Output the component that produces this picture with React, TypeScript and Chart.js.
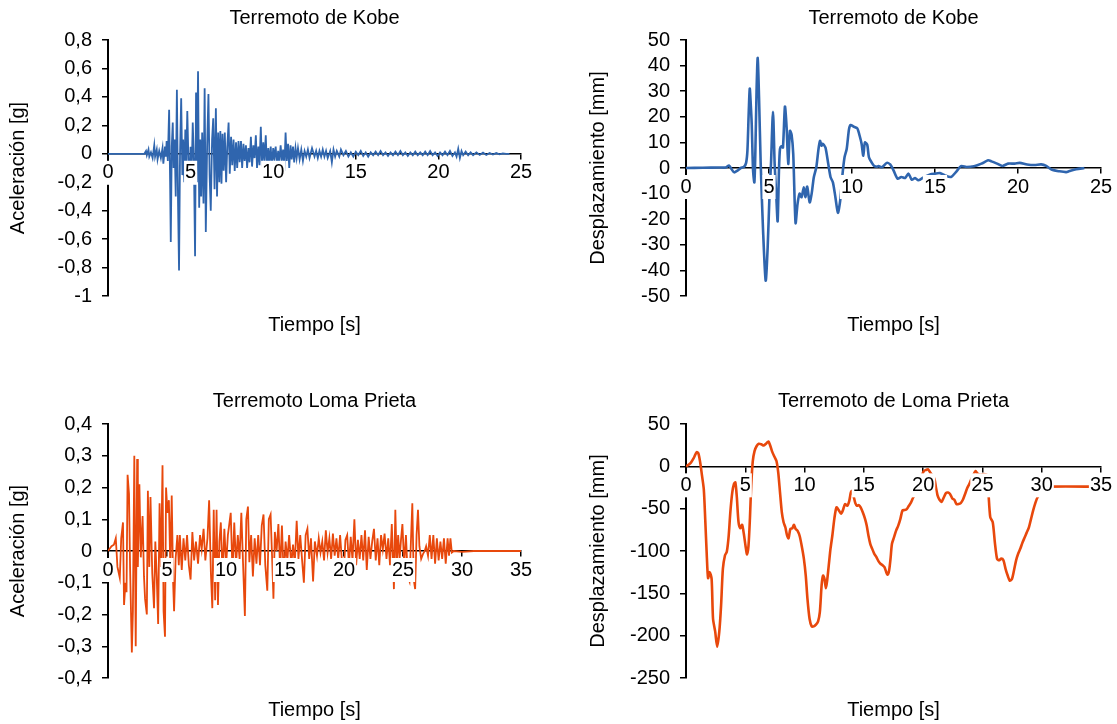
import React, { useEffect, useRef } from "react";
import { Chart, registerables } from "chart.js";

Chart.register(...registerables);

const FONT_FAMILY = '"Liberation Sans", Arial, Helvetica, sans-serif';
const BLUE = "#2f65ae";
const ORANGE = "#e8480c";
const X_TITLE = "Tiempo [s]";

// Kobe — ground acceleration [g] vs time [s]
const kobeAcceleration: [number, number][] = [
  [0, 0], [2.2, 0], [2.3, 0.02], [2.35, -0.01], [2.45, 0.03], [2.5, -0.02], [2.6, 0.01], [2.7, -0.03],
  [2.8, 0.06], [2.85, -0.02], [2.95, 0.03], [3.0, -0.04], [3.1, 0.02], [3.2, -0.03], [3.3, 0.04],
  [3.35, -0.07], [3.45, 0.05], [3.5, -0.02], [3.55, 0.09], [3.62, -0.05], [3.7, 0.31], [3.76, -0.2],
  [3.8, -0.62], [3.86, 0.05], [3.92, 0.22], [3.97, -0.1], [4.03, 0.1], [4.1, -0.3], [4.17, 0.45],
  [4.24, -0.35], [4.3, -0.82], [4.36, 0.0], [4.43, 0.39], [4.5, -0.15], [4.55, 0.1], [4.62, -0.2],
  [4.68, 0.17], [4.73, -0.1], [4.8, 0.3], [4.87, -0.05], [4.93, -0.2], [5.0, 0.05], [5.07, -0.1],
  [5.13, 0.22], [5.2, -0.05], [5.27, -0.72], [5.33, 0.43], [5.38, -0.2], [5.45, 0.58], [5.52, -0.38],
  [5.58, 0.1], [5.64, -0.3], [5.7, 0.15], [5.78, -0.35], [5.85, 0.46], [5.92, -0.55], [6.0, 0.05],
  [6.08, 0.42], [6.15, -0.15], [6.22, -0.4], [6.3, 0.1], [6.37, 0.25], [6.45, -0.25], [6.53, 0.32],
  [6.6, -0.3], [6.67, 0.15], [6.74, -0.2], [6.8, 0.16], [6.87, -0.21], [6.93, 0.14], [7.0, -0.12],
  [7.07, 0.15], [7.15, -0.2], [7.22, 0.05], [7.3, 0.22], [7.37, -0.14], [7.45, 0.12], [7.52, -0.08],
  [7.6, 0.1], [7.67, -0.12], [7.75, 0.08], [7.82, -0.1], [7.9, 0.09], [7.97, -0.06], [8.05, 0.09],
  [8.12, -0.1], [8.2, 0.07], [8.27, -0.05], [8.35, 0.06], [8.42, -0.1], [8.5, 0.04], [8.57, -0.06],
  [8.65, 0.12], [8.72, -0.09], [8.8, 0.06], [8.87, -0.03], [8.95, 0.13], [9.02, -0.1], [9.1, 0.05],
  [9.17, -0.08], [9.25, 0.19], [9.32, -0.09], [9.4, 0.08], [9.47, -0.05], [9.55, 0.13], [9.62, -0.1],
  [9.7, 0.04], [9.77, -0.06], [9.85, 0.05], [9.92, -0.09], [10.0, 0.04], [10.07, -0.03], [10.15, 0.05],
  [10.22, -0.08], [10.3, 0.02], [10.37, -0.06], [10.45, 0.06], [10.52, -0.04], [10.6, 0.03],
  [10.67, -0.12], [10.75, 0.15], [10.82, -0.05], [10.9, 0.07], [10.97, -0.1], [11.05, 0.06],
  [11.12, -0.04], [11.2, 0.05], [11.27, -0.06], [11.35, 0.04], [11.42, -0.03], [11.5, 0.04],
  [11.6, -0.04], [11.7, 0.03], [11.8, -0.05], [11.9, 0.02], [12.0, -0.02], [12.1, 0.03], [12.2, -0.03],
  [12.35, 0.04], [12.5, -0.02], [12.6, 0.02], [12.7, -0.03], [12.8, 0.02], [12.9, -0.02], [13.0, 0.03],
  [13.1, -0.02], [13.2, 0.02], [13.3, -0.03], [13.45, 0.02], [13.55, -0.06], [13.65, 0.03],
  [13.75, -0.02], [13.85, 0.02], [14.0, -0.02], [14.1, 0.03], [14.25, -0.01], [14.4, 0.02],
  [14.55, -0.02], [14.7, 0.01], [14.85, -0.02], [15.0, 0.015], [15.15, -0.01], [15.3, 0.02],
  [15.45, -0.015], [15.6, 0.01], [15.75, -0.02], [15.9, 0.01], [16.05, -0.01], [16.2, 0.015],
  [16.35, -0.01], [16.5, 0.02], [16.65, -0.01], [16.8, 0.01], [16.95, -0.015], [17.1, 0.01],
  [17.25, -0.01], [17.4, 0.015], [17.55, -0.01], [17.7, 0.02], [17.85, -0.01], [18.0, 0.01],
  [18.15, -0.015], [18.3, 0.01], [18.45, -0.01], [18.6, 0.015], [18.75, -0.01], [18.9, 0.01],
  [19.05, -0.01], [19.2, 0.015], [19.35, -0.01], [19.5, 0.02], [19.65, -0.01], [19.8, 0.01],
  [19.95, -0.015], [20.1, 0.01], [20.25, -0.01], [20.4, 0.015], [20.55, -0.01], [20.7, 0.02],
  [20.85, -0.015], [21.0, 0.01], [21.1, -0.02], [21.2, 0.035], [21.3, -0.03], [21.4, 0.02],
  [21.5, -0.01], [21.65, 0.015], [21.8, -0.01], [21.95, 0.01], [22.1, -0.01], [22.3, 0.01],
  [22.5, -0.008], [22.7, 0.008], [22.9, -0.008], [23.1, 0.006], [23.3, -0.005], [23.5, 0.005],
  [23.7, -0.004], [23.9, 0.003], [24.1, 0], [24.3, 0],
];

// Kobe — displacement [mm] vs time [s]
const kobeDisplacement: [number, number][] = [
  [0, 0], [1.0, 0.1], [2.0, 0.2], [2.39, 0.2], [2.59, 1.0], [2.75, -0.5], [2.9, -1.7], [3.1, -1.0],
  [3.3, 0], [3.5, 0.5], [3.62, 2], [3.7, 6.8], [3.77, 20], [3.84, 31], [3.9, 25], [3.96, 17],
  [4.04, -1], [4.12, -5.6], [4.18, 6.8], [4.25, 30], [4.32, 43], [4.4, 27.5], [4.5, 1.6], [4.64, -24],
  [4.8, -44], [4.92, -31], [5.04, -8.8], [5.12, 1.6], [5.24, 22], [5.34, 1.6], [5.44, -11],
  [5.52, -20.8], [5.6, -1], [5.66, 7.4], [5.75, 8.5], [5.84, 8], [5.96, 24], [6.06, 16], [6.16, 1.6],
  [6.26, 14.5], [6.36, 13], [6.46, 5.5], [6.6, -21.5], [6.72, -14], [6.84, -10], [6.96, -11.4],
  [7.1, -7.5], [7.2, -11.4], [7.3, -7.3], [7.45, -13.4], [7.57, -10], [7.7, -3.6], [7.85, 0.3],
  [7.97, 6.8], [8.07, 10.6], [8.17, 8.7], [8.24, 9.5], [8.31, 9], [8.41, 7.8], [8.57, 1.6],
  [8.71, -3.6], [8.85, -5.6], [9.0, -11.4], [9.15, -17.5], [9.29, -12.7], [9.41, -3.6], [9.55, 4.2],
  [9.68, 7.4], [9.82, 15.2], [9.92, 16.8], [10.12, 16.1], [10.32, 15.5], [10.46, 12.6], [10.58, 9.4],
  [10.68, 4.8], [10.78, 10], [10.92, 9], [11.02, 4.2], [11.18, 2.2], [11.32, 0.9], [11.52, 0.5],
  [11.6, 0.8], [11.8, 0.3], [12.1, 2], [12.3, 1.4], [12.5, -0.9], [12.75, -4.2], [12.97, -3.5],
  [13.2, -3.9], [13.4, -2.2], [13.6, -4.6], [13.8, -3.9], [14.0, -4.8], [14.36, -3.5], [14.7, -2.5],
  [15.0, -2.2], [15.3, -2], [15.6, -2.9], [15.96, -3.5], [16.3, -1.3], [16.56, 0.7], [16.9, 0.4],
  [17.35, 0.7], [17.8, 1.7], [18.2, 3], [18.4, 2.6], [18.74, 1.7], [19.06, 0.8], [19.4, 1.7],
  [19.8, 1.7], [20.1, 2], [20.55, 1.4], [21.0, 1.2], [21.4, 1.4], [21.7, 0.8], [22.05, -0.7],
  [22.5, -1.3], [22.9, -1.6], [23.1, -1.2], [23.5, -0.5], [24.0, 0],
];

// Loma Prieta — ground acceleration [g] vs time [s]
const lomaAcceleration: [number, number][] = [
  [0, 0], [0.3, 0.015], [0.5, 0.02], [0.66, 0.04], [0.8, -0.05], [1.0, -0.085], [1.12, 0.04],
  [1.27, 0.09], [1.36, -0.17], [1.48, -0.1], [1.57, -0.13], [1.66, 0.24], [1.78, 0.18], [1.87, -0.05],
  [2.02, -0.32], [2.11, -0.19], [2.23, 0.3], [2.35, -0.3], [2.47, 0.29], [2.53, -0.05], [2.66, 0.21],
  [2.78, -0.02], [2.93, 0.11], [3.05, -0.08], [3.14, -0.15], [3.29, -0.2], [3.38, 0.19], [3.5, -0.05],
  [3.6, 0.17], [3.75, -0.07], [3.9, -0.18], [4.01, 0.03], [4.13, -0.08], [4.25, -0.23], [4.37, 0.15],
  [4.49, -0.05], [4.62, 0.27], [4.71, -0.19], [4.83, -0.27], [4.92, 0.2], [5.04, 0.12], [5.16, 0.16],
  [5.28, -0.05], [5.4, 0.175], [5.52, -0.1], [5.6, -0.19], [5.73, -0.025], [5.88, 0.05], [6.0, -0.045],
  [6.09, 0.05], [6.25, -0.06], [6.4, 0.04], [6.55, -0.03], [6.7, 0.05], [6.85, -0.045], [7.0, -0.09],
  [7.15, 0.06], [7.3, -0.03], [7.45, 0.03], [7.63, -0.04], [7.8, 0.05], [7.94, 0.006], [8.1, 0.07],
  [8.25, -0.03], [8.43, 0.04], [8.57, 0.16], [8.72, -0.07], [8.84, -0.18], [8.96, 0.13], [9.08, -0.155],
  [9.2, 0.13], [9.32, -0.17], [9.44, 0.03], [9.56, 0.09], [9.71, -0.08], [9.86, 0.07], [10.01, -0.045],
  [10.16, 0.05], [10.4, 0.12], [10.55, -0.07], [10.7, 0.09], [10.85, -0.045], [11.0, 0.05],
  [11.15, -0.025], [11.3, 0.12], [11.45, -0.045], [11.6, -0.205], [11.72, 0.1], [11.86, 0.14],
  [11.98, -0.035], [12.13, 0.05], [12.28, -0.08], [12.43, 0.04], [12.58, -0.04], [12.73, 0.05],
  [12.88, -0.045], [13.03, 0.08], [13.18, 0.115], [13.33, -0.045], [13.5, -0.125], [13.63, 0.1],
  [13.78, 0.115], [13.93, -0.045], [14.02, -0.15], [14.14, 0.06], [14.29, 0.0], [14.44, 0.085],
  [14.59, -0.06], [14.74, 0.08], [14.9, -0.09], [15.05, 0.03], [15.2, -0.03], [15.35, 0.05],
  [15.53, -0.045], [15.68, 0.02], [15.83, -0.04], [15.99, 0.095], [16.14, -0.025], [16.29, 0.05],
  [16.44, -0.025], [16.6, -0.1], [16.75, 0.05], [16.9, 0.07], [17.05, -0.025], [17.2, 0.04],
  [17.38, -0.096], [17.53, 0.03], [17.71, -0.015], [17.86, 0.04], [18.01, -0.005], [18.16, 0.03],
  [18.31, -0.03], [18.46, 0.065], [18.61, -0.005], [18.76, 0.04], [18.91, -0.025], [19.06, 0.055],
  [19.21, -0.015], [19.36, 0.04], [19.51, -0.025], [19.67, 0.05], [19.82, -0.03], [19.97, -0.08],
  [20.12, 0.035], [20.27, 0.05], [20.42, -0.045], [20.57, 0.045], [20.72, -0.03], [20.88, 0.1],
  [21.03, -0.045], [21.18, 0.035], [21.33, -0.025], [21.48, 0.05], [21.63, -0.03], [21.78, 0.065],
  [21.93, -0.06], [22.09, 0.045], [22.24, -0.025], [22.39, 0.03], [22.54, 0.07], [22.69, -0.03],
  [22.84, 0.04], [22.99, -0.045], [23.14, 0.05], [23.29, 0.005], [23.44, 0.055], [23.6, -0.025],
  [23.75, 0.04], [23.9, -0.045], [24.05, 0.085], [24.17, -0.045], [24.23, -0.12], [24.35, 0.13],
  [24.47, -0.045], [24.59, 0.05], [24.71, -0.025], [24.83, 0.035], [24.95, 0.085], [25.1, -0.045],
  [25.25, 0.05], [25.4, -0.08], [25.55, -0.096], [25.7, 0.06], [25.79, 0.15], [25.91, -0.09],
  [26.03, -0.12], [26.15, 0.05], [26.27, 0.13], [26.39, 0.015], [26.54, -0.025], [26.69, -0.01],
  [26.84, 0.0], [26.96, 0.015], [27.12, -0.015], [27.27, 0.05], [27.42, -0.025], [27.57, 0.05],
  [27.72, -0.04], [27.87, 0.04], [28.02, -0.03], [28.17, 0.03], [28.32, -0.025], [28.47, 0.04],
  [28.62, -0.04], [28.78, 0.04], [28.9, -0.015], [29.02, 0.04], [29.14, -0.005], [29.3, 0.0],
  [30.0, -0.003], [31.0, 0], [35, 0],
];

// Loma Prieta — displacement [mm] vs time [s]
const lomaDisplacement: [number, number][] = [
  [0, 0], [0.36, 3.5], [0.66, 10], [0.9, 16.8], [1.05, 15], [1.2, 4.3], [1.35, -11], [1.5, -27],
  [1.62, -62], [1.74, -101], [1.86, -132], [2.0, -125], [2.16, -133], [2.28, -180], [2.46, -195],
  [2.63, -213], [2.81, -195], [2.96, -164], [3.11, -121], [3.29, -105], [3.44, -101], [3.6, -82],
  [3.74, -54], [3.9, -31], [4.04, -21], [4.16, -19], [4.28, -35], [4.43, -66], [4.58, -73],
  [4.73, -69], [4.88, -80], [5.03, -95], [5.15, -104], [5.27, -94], [5.39, -62], [5.5, -23],
  [5.63, 6], [5.78, 18], [5.96, 24], [6.14, 26.6], [6.35, 26], [6.56, 24.6], [6.77, 27], [6.95, 29.3],
  [7.1, 24.6], [7.25, 18], [7.46, 11.3], [7.63, 6.3], [7.78, -7.4], [7.93, -31], [8.08, -54],
  [8.23, -66], [8.38, -72], [8.53, -82], [8.65, -85], [8.8, -74], [8.98, -73], [9.1, -69],
  [9.25, -74], [9.4, -76], [9.58, -82], [9.76, -94], [9.94, -109], [10.1, -129], [10.24, -156],
  [10.42, -180], [10.6, -189], [10.78, -189], [10.96, -187], [11.14, -183], [11.29, -172],
  [11.44, -140], [11.56, -129], [11.68, -133], [11.8, -144], [11.92, -133], [12.04, -117],
  [12.19, -97], [12.34, -82], [12.51, -62], [12.69, -48.5], [12.87, -51.6], [13.08, -56],
  [13.23, -52], [13.41, -44.6], [13.6, -46.6], [13.77, -40.7], [13.9, -31], [14.0, -29], [14.13, -35],
  [14.28, -43.4], [14.43, -46.6], [14.58, -45.8], [14.73, -48.5], [14.9, -54], [15.1, -62],
  [15.24, -70], [15.39, -82], [15.54, -91.5], [15.69, -97], [15.87, -103], [16.05, -107],
  [16.23, -112], [16.4, -115], [16.6, -117], [16.74, -119], [16.89, -125], [17.0, -128],
  [17.13, -123], [17.25, -109], [17.37, -91.5], [17.54, -84], [17.72, -76], [17.9, -70],
  [18.08, -62], [18.26, -52], [18.44, -51.6], [18.62, -50.5], [18.8, -46.6], [18.98, -42.6],
  [19.16, -36.8], [19.34, -32.9], [19.52, -27], [19.7, -19], [19.88, -11.3], [20.06, -5.5],
  [20.24, -4.3], [20.42, -3.5], [20.6, -7.4], [20.78, -10.6], [20.96, -15], [21.08, -25],
  [21.23, -35], [21.38, -39.5], [21.56, -41.9], [21.74, -36.8], [21.92, -31.7], [22.1, -31],
  [22.28, -32.9], [22.46, -38], [22.63, -39.5], [22.81, -44.6], [22.99, -44.6], [23.17, -43.4],
  [23.35, -39.5], [23.53, -32.9], [23.71, -26], [23.89, -21], [24.07, -15], [24.25, -9.4],
  [24.43, -5.5], [24.55, -8.2], [24.8, -10], [25.1, -9], [25.36, -10], [25.5, -30], [25.66, -60],
  [25.87, -66], [26.05, -90], [26.23, -109], [26.4, -111], [26.59, -109], [26.77, -111],
  [26.95, -121], [27.13, -129], [27.3, -135], [27.49, -133], [27.66, -123], [27.84, -111],
  [28.02, -103], [28.2, -97], [28.38, -90], [28.56, -84], [28.74, -78], [28.92, -72], [29.1, -62],
  [29.28, -52], [29.46, -43.4], [29.64, -36.8], [29.85, -33], [30.06, -29], [30.3, -25], [30.6, -24],
  [35, -24],
];

// Axis ranges
const KOBE_TIME_MAX = 25;
const LOMA_TIME_MAX = 35;
const TIME_STEP = 5;

// Spanish decimal comma for tick labels
const formatTick = (value: number | string) => {
  const v = Math.round(Number(value) * 10) / 10;
  return String(v).replace(".", ",");
};

type PanelProps = {
  left: number;
  top: number;
  width: number;
  height: number;
  title: string;
  yTitle: string;
  series: [number, number][];
  color: string;
  lineWidth: number;
  tension: number;
  xMax: number;
  yMin: number;
  yMax: number;
  yStep: number;
  yScaleWidth: number;
  yTitlePad: number;
  padRight: number;
  titlePad: { top: number; bottom: number };
  subPad: { top: number; bottom: number };
};

const font = { family: FONT_FAMILY, size: 20, weight: "normal" as const, lineHeight: 1.2 };

function ChartPanel(p: PanelProps) {
  const canvasRef = useRef<HTMLCanvasElement | null>(null);

  useEffect(() => {
    const canvas = canvasRef.current;
    if (!canvas) return;
    const chart = new Chart(canvas, {
      type: "line",
      data: {
        datasets: [
          {
            data: p.series.map(([x, y]) => ({ x, y })),
            borderColor: p.color,
            borderWidth: p.lineWidth,
            pointRadius: 0,
            tension: p.tension,
            fill: false,
          },
        ],
      },
      options: {
        responsive: false,
        animation: false,
        events: [],
        layout: { padding: { left: 0, right: p.padRight, top: 0, bottom: 0 } },
        plugins: {
          legend: { display: false },
          tooltip: { enabled: false },
          title: {
            display: true,
            text: p.title,
            fullSize: false,
            color: "#000",
            font,
            padding: p.titlePad,
          },
          subtitle: {
            display: true,
            position: "bottom",
            text: X_TITLE,
            fullSize: false,
            color: "#000",
            font,
            padding: p.subPad,
          },
        },
        scales: {
          x: {
            type: "linear",
            position: { y: 0 },
            min: 0,
            max: p.xMax,
            ticks: {
              stepSize: TIME_STEP,
              color: "#000",
              font,
              padding: 2,
              z: 1,
              maxRotation: 0,
              autoSkip: false,
              showLabelBackdrop: true,
              backdropColor: "#ffffff",
              backdropPadding: { top: 0, bottom: 0, left: 1, right: 1 },
            },
            grid: {
              drawOnChartArea: false,
              drawTicks: true,
              tickLength: 5,
              color: "#000",
              lineWidth: 1.5,
            },
            border: { color: "#000", width: 1.5 },
            afterFit: (s: any) => {
              s.paddingLeft = 0;
              s.paddingRight = 0;
            },
          },
          y: {
            type: "linear",
            position: "left",
            min: p.yMin,
            max: p.yMax,
            ticks: {
              stepSize: p.yStep,
              color: "#000",
              font,
              padding: 10,
              autoSkip: false,
              callback: formatTick,
            },
            grid: {
              drawOnChartArea: false,
              drawTicks: true,
              tickLength: 6,
              color: "#000",
              lineWidth: 1.5,
            },
            border: { color: "#000", width: 2 },
            title: {
              display: true,
              text: p.yTitle,
              color: "#000",
              font,
              padding: { top: p.yTitlePad, bottom: 0 },
            },
            afterFit: (s: any) => {
              s.width = p.yScaleWidth;
              s.paddingTop = 0;
              s.paddingBottom = 0;
            },
          },
        },
      } as any,
    });
    return () => chart.destroy();
  }, []);

  return (
    <canvas
      ref={canvasRef}
      width={p.width}
      height={p.height}
      style={{ position: "absolute", left: p.left, top: p.top, width: p.width, height: p.height }}
    />
  );
}

export default function App() {
  const topTitlePad = { top: 6, bottom: 10 };
  const topSubPad = { top: 17, bottom: 13 };
  const bottomTitlePad = { top: 27, bottom: 11 };
  const bottomSubPad = { top: 20, bottom: 2 };

  return (
    <div style={{ position: "absolute", left: 0, top: 0, width: 1117, height: 724, background: "#fff" }}>
      <ChartPanel
        left={0} top={0} width={558} height={350}
        title="Terremoto de Kobe" yTitle="Aceleración [g]"
        series={kobeAcceleration} color={BLUE} lineWidth={1.8} tension={0}
        xMax={KOBE_TIME_MAX} yMin={-1} yMax={0.8} yStep={0.2}
        yScaleWidth={108} yTitlePad={6} padRight={37}
        titlePad={topTitlePad} subPad={topSubPad}
      />
      <ChartPanel
        left={558} top={0} width={559} height={350}
        title="Terremoto de Kobe" yTitle="Desplazamiento [mm]"
        series={kobeDisplacement} color={BLUE} lineWidth={2.6} tension={0.25}
        xMax={KOBE_TIME_MAX} yMin={-50} yMax={50} yStep={10}
        yScaleWidth={128} yTitlePad={28} padRight={16}
        titlePad={topTitlePad} subPad={topSubPad}
      />
      <ChartPanel
        left={0} top={362} width={558} height={362}
        title="Terremoto Loma Prieta" yTitle="Aceleración [g]"
        series={lomaAcceleration} color={ORANGE} lineWidth={1.8} tension={0}
        xMax={LOMA_TIME_MAX} yMin={-0.4} yMax={0.4} yStep={0.1}
        yScaleWidth={108} yTitlePad={6} padRight={37}
        titlePad={bottomTitlePad} subPad={bottomSubPad}
      />
      <ChartPanel
        left={558} top={362} width={559} height={362}
        title="Terremoto de Loma Prieta" yTitle="Desplazamiento [mm]"
        series={lomaDisplacement} color={ORANGE} lineWidth={2.6} tension={0.25}
        xMax={LOMA_TIME_MAX} yMin={-250} yMax={50} yStep={50}
        yScaleWidth={128} yTitlePad={28} padRight={16}
        titlePad={bottomTitlePad} subPad={bottomSubPad}
      />
    </div>
  );
}
